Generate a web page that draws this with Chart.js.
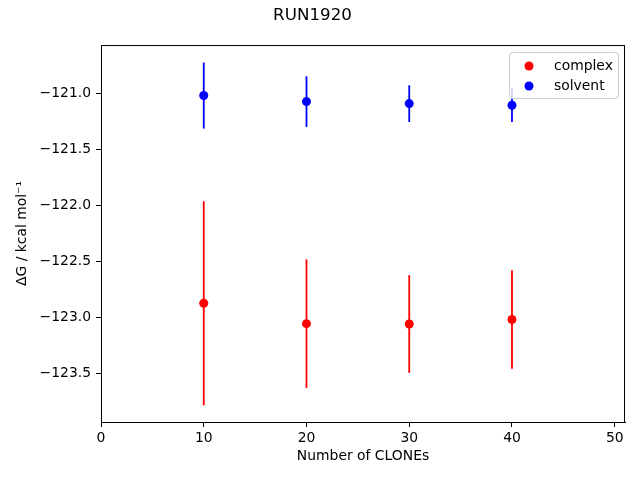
<!DOCTYPE html>
<html>
<head>
<meta charset="utf-8">
<script src="https://cdn.jsdelivr.net/npm/chart.js@4"></script>
<style>
  body { margin: 0; background: #fff; }
  #wrap { width: 640px; height: 480px; }
</style>
</head>
<body>
<div id="wrap"><canvas id="myChart" width="640" height="480"></canvas></div>
<script>
// data
var clones = [10, 20, 30, 40];
var complexDG = [-122.875, -123.057, -123.06, -123.02];
var complexErr = [0.911, 0.574, 0.436, 0.44];
var solventDG = [-121.02, -121.074, -121.092, -121.107];
var solventErr = [0.295, 0.226, 0.164, 0.149];
var yTicks = [-123.5, -123.0, -122.5, -122.0, -121.5, -121.0];
var xTicks = [0, 10, 20, 30, 40, 50];

var font = "DejaVu Sans";

function pts(ys, errs) {
    return clones.map(function (c, i) { return { x: c, y: ys[i], err: errs[i] }; });
}

// error bars, drawn behind the markers
var errorBars = {
    id: 'errorBars',
    beforeDatasetsDraw: function (chart) {
        var ctx = chart.ctx, xs = chart.scales.x, ys = chart.scales.y;
        ctx.save();
        chart.data.datasets.forEach(function (ds) {
            ctx.strokeStyle = ds.backgroundColor;
            ctx.lineWidth = 1.8;
            ds.data.forEach(function (p) {
                var px = xs.getPixelForValue(p.x);
                ctx.beginPath();
                ctx.moveTo(px, ys.getPixelForValue(p.y - p.err));
                ctx.lineTo(px, ys.getPixelForValue(p.y + p.err));
                ctx.stroke();
            });
        });
        ctx.restore();
    }
};

// frame on top/right plus matplotlib-like legend inside the axes
var frameAndLegend = {
    id: 'frameAndLegend',
    afterDraw: function (chart) {
        var ctx = chart.ctx, a = chart.chartArea;
        ctx.save();
        ctx.strokeStyle = '#000';
        ctx.lineWidth = 1;
        ctx.strokeRect(a.left + 0.5, a.top + 0.5, a.right - a.left - 1, a.bottom - a.top);

        var w = 109, h = 46;
        var lx = a.right - 7 - w, ly = a.top + 7;
        ctx.beginPath();
        ctx.roundRect(lx + 0.5, ly + 0.5, w, h, 3);
        ctx.fillStyle = 'rgba(255,255,255,0.8)';
        ctx.fill();
        ctx.strokeStyle = '#cccccc';
        ctx.stroke();

        ctx.font = '13.9px "' + font + '"';
        ctx.textBaseline = 'middle';
        chart.data.datasets.forEach(function (ds, i) {
            var cy = ly + 14 + i * 20;
            ctx.beginPath();
            ctx.arc(lx + 20, cy, 4.5, 0, Math.PI * 2);
            ctx.fillStyle = ds.backgroundColor;
            ctx.fill();
            ctx.fillStyle = '#000';
            ctx.fillText(ds.label, lx + 45, cy);
        });
        ctx.restore();
    }
};

function minus(v, d) {
    return v.toFixed(d).replace('-', '\u2212');
}

var ctx = document.getElementById("myChart").getContext('2d');
var myChart = new Chart(ctx, {
    type: 'scatter',
    data: {
        datasets: [{
            label: 'complex',
            data: pts(complexDG, complexErr),
            backgroundColor: '#ff0000',
            borderColor: '#ff0000',
            pointRadius: 4.5,
            borderWidth: 0
        }, {
            label: 'solvent',
            data: pts(solventDG, solventErr),
            backgroundColor: '#0000ff',
            borderColor: '#0000ff',
            pointRadius: 4.5,
            borderWidth: 0
        }]
    },
    options: {
        responsive: false,
        animation: false,
        layout: { padding: { left: 0, right: 15, top: 0, bottom: 0 } },
        plugins: {
            legend: { display: false },
            tooltip: { enabled: false },
            title: {
                display: true,
                text: 'RUN1920',
                color: '#000',
                font: { family: font, size: 16.7, weight: 'normal' },
                padding: { top: 6, bottom: 19 }
            }
        },
        scales: {
            x: {
                type: 'linear',
                min: 0,
                max: 51,
                afterFit: function (s) { s.height = 58; },
                afterBuildTicks: function (s) { s.ticks = xTicks.map(function (v) { return { value: v }; }); },
                grid: { drawOnChartArea: false, drawTicks: true, tickLength: 5, color: '#000' },
                border: { display: true, color: '#000', width: 1 },
                ticks: {
                    color: '#000',
                    padding: 3,
                    maxRotation: 0,
                    font: { family: font, size: 13.9 },
                    callback: function (v) { return minus(v, 0); }
                },
                title: {
                    display: true,
                    text: 'Number of CLONEs',
                    color: '#000',
                    font: { family: font, size: 13.9 },
                    padding: { top: 0, bottom: 15 }
                }
            },
            y: {
                type: 'linear',
                min: -123.935,
                max: -120.569,
                afterFit: function (s) { s.width = 101; },
                afterBuildTicks: function (s) { s.ticks = yTicks.map(function (v) { return { value: v }; }); },
                grid: { drawOnChartArea: false, drawTicks: true, tickLength: 5, color: '#000' },
                border: { display: true, color: '#000', width: 1 },
                ticks: {
                    color: '#000',
                    padding: 5,
                    font: { family: font, size: 13.9 },
                    callback: function (v) { return minus(v, 1); }
                },
                title: {
                    display: true,
                    text: '\u0394G / kcal mol\u207B\u00B9',
                    color: '#000',
                    font: { family: font, size: 13.9 },
                    padding: { top: 14, bottom: 0 }
                }
            }
        }
    },
    plugins: [errorBars, frameAndLegend]
});
</script>
</body>
</html>
